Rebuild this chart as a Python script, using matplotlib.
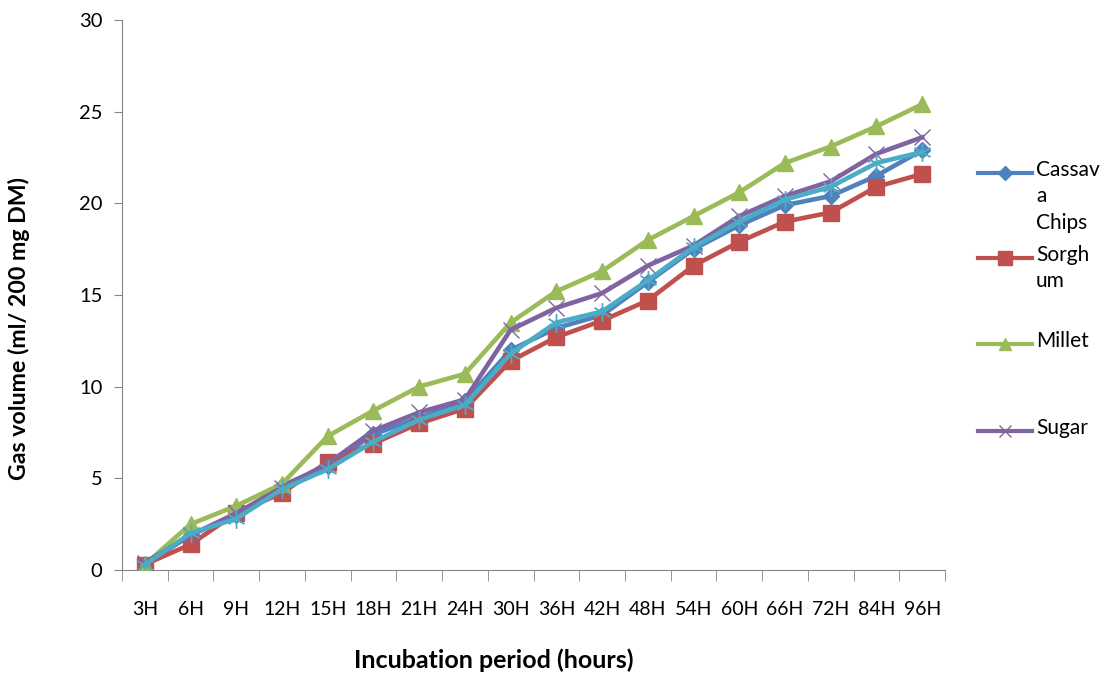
import numpy as np
import matplotlib.pyplot as plt
from matplotlib.lines import Line2D

hours = ['3H', '6H', '9H', '12H', '15H', '18H', '21H', '24H', '30H', '36H',
         '42H', '48H', '54H', '60H', '66H', '72H', '84H', '96H']

cassava = [0.3, 1.9, 3.0, 4.6, 5.7, 7.4, 8.3, 9.2, 12.0, 13.2,
           13.9, 15.7, 17.5, 18.8, 19.9, 20.4, 21.5, 22.9]
sorghum = [0.3, 1.4, 3.1, 4.2, 5.9, 6.9, 8.0, 8.8, 11.4, 12.7,
           13.6, 14.7, 16.6, 17.9, 19.0, 19.5, 20.9, 21.6]
millet = [0.3, 2.5, 3.5, 4.7, 7.3, 8.7, 10.0, 10.7, 13.5, 15.2,
          16.3, 18.0, 19.3, 20.6, 22.2, 23.1, 24.2, 25.4]
sugar = [0.4, 1.9, 3.1, 4.5, 5.8, 7.6, 8.6, 9.3, 13.1, 14.3,
         15.1, 16.6, 17.7, 19.3, 20.4, 21.2, 22.7, 23.6]
series5 = [0.3, 2.0, 2.8, 4.4, 5.5, 7.0, 8.2, 9.0, 11.8, 13.5,
           14.1, 15.8, 17.6, 19.0, 20.2, 20.9, 22.2, 22.8]

plt.rcParams['font.family'] = ['Lato', 'DejaVu Sans']

fig = plt.figure(figsize=(11.11, 6.77), dpi=100)
ax = fig.add_axes([122 / 1111, 1 - 570 / 677, (945 - 122) / 1111, 550 / 677])

x = np.arange(len(hours))
asterisk = (6, 2, 0)
styles = [
    (cassava, '#4F81BD', 'D', 8, 'Cassava Chips'),
    (sorghum, '#C0504D', 's', 11, 'Sorghum'),
    (millet, '#9BBB59', '^', 11, 'Millet'),
    (sugar, '#8064A2', 'x', 11, 'Sugar'),
    (series5, '#4BACC6', asterisk, 13, '_series5'),
]
for vals, col, mk, ms, lab in styles:
    if mk in ('x', asterisk):
        ax.plot(x, vals, color=col, lw=3.3, marker=mk, ms=ms, mew=1.0,
                mec=col, label=lab, zorder=3)
    else:
        ax.plot(x, vals, color=col, lw=3.3, marker=mk, ms=ms, mec=col,
                mfc=col, label=lab, zorder=3)

ax.set_xlim(-0.5, len(hours) - 0.5)
ax.set_ylim(0, 30)
ax.set_yticks(range(0, 31, 5))
ax.set_xticks(x)
ax.set_xticklabels(hours, fontsize=14)
ax.set_xticks(np.arange(-0.5, len(hours), 1), minor=True)
ax.tick_params(axis='x', which='major', length=0, pad=22)
ax.tick_params(axis='x', which='minor', length=8, color='#868686', direction='out')
ax.tick_params(axis='y', length=6, color='#868686', labelsize=14.5, pad=8)
for s in ('top', 'right'):
    ax.spines[s].set_visible(False)
for s in ('left', 'bottom'):
    ax.spines[s].set_color('#868686')

ax.set_xlabel('Incubation period (hours)', fontsize=18, fontweight='bold')
ax.set_ylabel('Gas volume (ml/ 200 mg DM)', fontsize=16.7, fontweight='bold')
ax.xaxis.set_label_coords(0.452, -0.142)
ax.yaxis.set_label_coords(-0.112, 0.44)

# legend drawn by hand so wrapped labels sit top-aligned next to their keys
legend_rows = [
    ('#4F81BD', 'D', 7, 'Cassav\na\nChips', 173),
    ('#C0504D', 's', 10, 'Sorgh\num', 258),
    ('#9BBB59', '^', 9, 'Millet', 344),
    ('#8064A2', 'x', 9, 'Sugar', 431),
]
for col, mk, ms, txt, py in legend_rows:
    yf = 1 - py / 677
    fig.add_artist(Line2D([978 / 1111, 1032 / 1111], [yf, yf], color=col, lw=3,
                          transform=fig.transFigure))
    fig.add_artist(Line2D([1005 / 1111], [yf], color=col, marker=mk, ms=ms,
                          mfc=col, mec=col, transform=fig.transFigure))
    fig.text(1036 / 1111, yf + 13 / 677, txt, fontsize=15, va='top', ha='left',
             linespacing=1.4)

fig.savefig('out.png', dpi=100)
